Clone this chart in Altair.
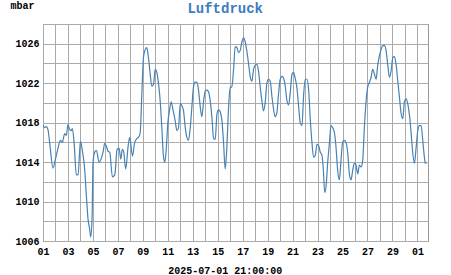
import json
import altair as alt
import pandas as pd

# days since the start of the record (x position) and pressure in mbar
day_offset = [
    0.00, 0.13, 0.27, 0.40, 0.53, 0.80, 1.00, 1.20, 1.39, 1.55, 1.74, 1.87,
    2.00, 2.14, 2.27, 2.35, 2.49, 2.67, 2.81, 3.00, 3.16, 3.34, 3.48, 3.61,
    3.74, 3.82, 3.93, 4.01, 4.14, 4.28, 4.49, 4.68, 4.81, 4.95, 5.08, 5.21,
    5.35, 5.56, 5.75, 5.94, 6.10, 6.23, 6.36, 6.47, 6.63, 6.82, 6.95, 7.17,
    7.35, 7.54, 7.70, 7.79, 7.92, 8.05, 8.19, 8.32, 8.45, 8.59, 8.72, 8.86,
    8.99, 9.12, 9.26, 9.39, 9.52, 9.66, 9.76, 9.87, 10.00, 10.13, 10.27, 10.40,
    10.59, 10.73, 10.86, 11.00, 11.13, 11.26, 11.40, 11.53, 11.66, 11.80, 11.93, 12.06,
    12.20, 12.33, 12.47, 12.60, 12.73, 12.87, 13.00, 13.14, 13.27, 13.40, 13.53, 13.67,
    13.80, 13.94, 14.07, 14.20, 14.34, 14.47, 14.60, 14.72, 14.87, 15.00, 15.13, 15.27,
    15.40, 15.54, 15.67, 15.80, 15.94, 16.07, 16.20, 16.34, 16.47, 16.60, 16.74, 16.87,
    17.00, 17.14, 17.27, 17.40, 17.54, 17.67, 17.80, 17.94, 18.07, 18.21, 18.34, 18.47,
    18.60, 18.74, 18.88, 19.01, 19.14, 19.28, 19.41, 19.55, 19.68, 19.81, 19.95, 20.08,
    20.21, 20.35, 20.48, 20.61, 20.75, 20.88, 21.01, 21.15, 21.28, 21.42, 21.55, 21.68,
    21.82, 21.95, 22.08, 22.22, 22.35, 22.45, 22.58, 22.70, 22.81, 22.95, 23.08, 23.21,
    23.35, 23.48, 23.61, 23.75, 23.88, 24.01, 24.15, 24.28, 24.42, 24.55, 24.68, 24.82,
    24.95, 25.08, 25.22, 25.35, 25.49, 25.62, 25.75, 25.89, 26.02, 26.16, 26.29, 26.42,
    26.56, 26.69, 26.82, 26.96, 27.09, 27.22, 27.36, 27.49, 27.63, 27.76, 27.89, 28.03,
    28.16, 28.29, 28.43, 28.56, 28.70, 28.83, 28.96, 29.10, 29.23, 29.37, 29.50, 29.63,
    29.77, 29.90, 30.03, 30.17, 30.30, 30.43, 30.57, 30.63, 30.72,
]
pressure_mbar = [
    1017.7, 1017.5, 1017.6, 1017.3, 1016.0, 1013.4, 1014.3, 1015.4, 1016.2, 1016.0, 1016.9, 1016.7,
    1017.8, 1017.3, 1017.2, 1017.4, 1016.0, 1012.7, 1012.7, 1016.1, 1015.1, 1013.3, 1010.5, 1008.2,
    1007.2, 1006.4, 1008.2, 1014.0, 1015.0, 1015.2, 1014.0, 1014.4, 1015.0, 1015.9, 1015.6, 1015.1,
    1015.0, 1012.5, 1012.7, 1015.3, 1015.4, 1014.3, 1015.3, 1015.0, 1013.3, 1015.6, 1016.5, 1014.6,
    1016.0, 1016.4, 1016.6, 1017.0, 1020.9, 1024.6, 1025.4, 1025.6, 1024.6, 1022.9, 1021.7, 1021.9,
    1023.4, 1023.1, 1021.9, 1020.2, 1017.5, 1014.5, 1014.0, 1015.2, 1017.9, 1019.2, 1020.1, 1019.4,
    1018.2, 1017.2, 1017.5, 1019.9, 1019.7, 1019.2, 1017.5, 1016.5, 1016.2, 1017.5, 1019.6, 1021.6,
    1022.1, 1022.1, 1021.2, 1019.6, 1018.6, 1020.2, 1021.2, 1021.3, 1021.1, 1020.2, 1018.6, 1016.4,
    1016.3, 1018.9, 1019.3, 1019.1, 1018.2, 1015.9, 1013.3, 1015.2, 1019.5, 1021.6, 1021.6, 1023.4,
    1025.7, 1025.6, 1025.1, 1025.3, 1026.2, 1026.6, 1026.2, 1025.2, 1024.0, 1022.7, 1022.2, 1023.4,
    1023.8, 1023.9, 1023.2, 1021.7, 1020.2, 1019.2, 1020.0, 1022.0, 1022.4, 1022.2, 1020.7, 1019.4,
    1018.6, 1019.0, 1021.0, 1022.4, 1022.7, 1022.5, 1021.7, 1020.2, 1019.8, 1021.0, 1022.9, 1023.1,
    1022.5, 1021.5, 1019.7, 1018.0, 1017.7, 1020.7, 1022.4, 1022.4, 1021.4, 1018.3, 1016.0, 1014.5,
    1014.7, 1015.8, 1015.7, 1015.0, 1014.7, 1013.5, 1010.9, 1011.8, 1013.9, 1015.9, 1017.7, 1017.5,
    1017.0, 1015.5, 1013.2, 1012.2, 1014.2, 1016.0, 1016.2, 1016.0, 1014.9, 1012.8, 1012.2, 1013.2,
    1013.9, 1013.7, 1012.8, 1013.7, 1013.5, 1014.2, 1017.5, 1020.2, 1021.6, 1022.1, 1022.6, 1023.4,
    1022.9, 1022.4, 1023.8, 1024.8, 1025.4, 1025.8, 1025.8, 1025.3, 1023.8, 1022.6, 1023.2, 1024.6,
    1024.7, 1023.9, 1022.2, 1020.6, 1018.9, 1018.4, 1020.1, 1020.4, 1019.9, 1018.7, 1016.9, 1014.9,
    1013.9, 1015.5, 1017.2, 1017.7, 1017.7, 1016.2, 1014.4, 1013.9, 1013.9,
]

x_tick_labels = ["01", "03", "05", "07", "09", "11", "13", "15",
                 "17", "19", "21", "23", "25", "27", "29", "01"]
x_grid_days = list(range(0, 31))
y_tick_labels = [1006, 1010, 1014, 1018, 1022, 1026]
y_grid_values = list(range(1006, 1029, 2))

title_text = ["Luftdruck"]
y_title = "mbar"
x_title = "2025-07-01 21:00:00"

df = pd.DataFrame({"day": day_offset, "pressure": pressure_mbar})
title_df = pd.DataFrame({"t": title_text})

FONT = "Liberation Mono"
x_label_expr = ("datum.value % 2 == 0 ? " + json.dumps(x_tick_labels)
                + "[datum.value / 2] : ''")
y_label_expr = ("indexof(" + json.dumps(y_tick_labels)
                + ", datum.value) >= 0 ? datum.label : ''")

line = alt.Chart(df).mark_line(
    color="#4682b4", strokeWidth=1.2, interpolate="monotone", clip=True
).encode(
    x=alt.X(
        "day:Q",
        scale=alt.Scale(domain=[0, 30.85], nice=False, zero=False),
        axis=alt.Axis(
            values=x_grid_days, labelExpr=x_label_expr, labelOverlap=False,
            labelFlush=False, ticks=False, domain=False, labelPadding=5,
            grid=True, gridColor="#aaaaaa", gridWidth=1,
            labelFont=FONT, labelFontSize=10, labelFontWeight="bold",
            labelColor="#000000",
            title=x_title, titleFont=FONT, titleFontSize=10,
            titleFontWeight="bold", titleColor="#000000",
            titleX=181.7, titleY=32, titleAlign="center",
            titleBaseline="alphabetic",
        ),
    ),
    y=alt.Y(
        "pressure:Q",
        scale=alt.Scale(domain=[1006, 1028], nice=False, zero=False),
        axis=alt.Axis(
            values=y_grid_values, labelExpr=y_label_expr, format="d",
            labelOverlap=False, labelFlush=False, ticks=False, domain=False,
            labelPadding=4, grid=True, gridColor="#aaaaaa", gridWidth=1,
            labelFont=FONT, labelFontSize=10, labelFontWeight="bold",
            labelColor="#000000",
            title=y_title, titleFont=FONT, titleFontSize=10,
            titleFontWeight="bold", titleColor="#000000", titleAngle=0,
            titleX=-33, titleY=-15.5, titleAlign="left",
            titleBaseline="alphabetic",
        ),
    ),
)

title_mark = alt.Chart(title_df).mark_text(
    font=FONT, fontSize=14, fontWeight="bold", color="#3b7dc0",
    align="center", baseline="alphabetic",
).encode(
    text="t:N",
    x=alt.value(182.2),
    y=alt.value(-11),
)

chart = alt.layer(line, title_mark).properties(
    width=385,
    height=217,
    padding={"left": 43, "top": 24, "right": 23, "bottom": 34},
    autosize=alt.AutoSizeParams(type="none"),
).configure_view(
    stroke="#999999", strokeWidth=1
)

chart.save("out.html", embed_options={"renderer": "svg", "actions": False})
